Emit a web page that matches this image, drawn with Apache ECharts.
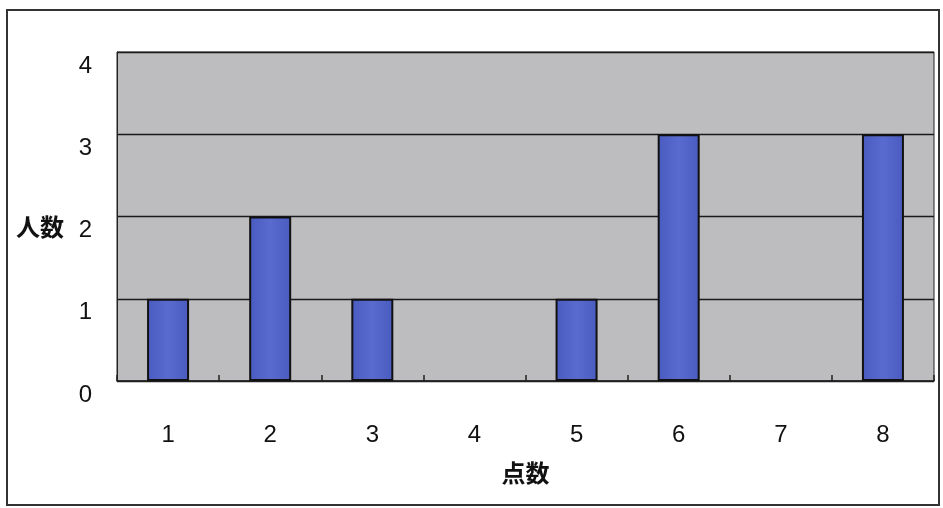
<!DOCTYPE html>
<html>
<head>
<meta charset="utf-8">
<script src="https://cdn.jsdelivr.net/npm/echarts@6/dist/echarts.min.js"></script>
<style>
  html, body { margin: 0; padding: 0; background: #ffffff; }
  #chart { width: 943px; height: 508px; }
</style>
</head>
<body>
<div id="chart"></div>
<script>
// 点数ごとの人数
const scores = ['1', '2', '3', '4', '5', '6', '7', '8'];
const counts = [1, 2, 1, 0, 1, 3, 0, 3];
const yTicks = [0, 1, 2, 3, 4];

const chart = echarts.init(document.getElementById('chart'), null, { renderer: 'canvas' });

const font = '"Liberation Sans", Arial, "Noto Sans CJK JP", sans-serif';

const frame = {
  type: 'rect',
  shape: { x: 7, y: 10, width: 932, height: 495 },
  style: { fill: 'none', stroke: '#333333', lineWidth: 2 },
  silent: true
};

chart.setOption({
  animation: false,
  backgroundColor: '#ffffff',
  graphic: [frame],
  grid: {
    left: 117, right: 9, top: 52, bottom: 127,
    show: true,
    backgroundColor: '#bdbdc0',
    borderColor: '#222222',
    borderWidth: 1
  },
  xAxis: {
    type: 'category',
    data: scores,
    name: '点数',
    nameLocation: 'middle',
    nameGap: 82,
    nameTextStyle: { fontFamily: font, fontSize: 24, fontWeight: 'bold', color: '#111111' },
    axisLine: { show: true, lineStyle: { color: '#222222', width: 1.5 } },
    axisTick: { show: true, inside: true, length: 6, interval: 0, lineStyle: { color: '#222222', width: 1.5 } },
    axisLabel: { fontFamily: font, fontSize: 24, color: '#111111', margin: 42 }
  },
  yAxis: {
    type: 'value',
    min: yTicks[0],
    max: yTicks[yTicks.length - 1],
    interval: 1,
    axisLine: { show: true, lineStyle: { color: '#222222', width: 1 } },
    axisTick: { show: false },
    splitLine: { show: true, lineStyle: { color: '#1a1a1a', width: 1.3 } },
    axisLabel: {
      fontFamily: font, fontSize: 24, color: '#111111', margin: 25,
      verticalAlign: 'top',
      padding: [2, 0, 0, 0],
      formatter: v => (yTicks.includes(v) ? String(v) : '')
    }
  },
  series: [{
    type: 'bar',
    // 0 人の棒は枠線も描かない
    data: counts.map(v => (v === 0 ? { value: v, itemStyle: { borderWidth: 0 } } : v)),
    barWidth: 42,
    itemStyle: {
      color: {
        type: 'linear', x: 0, y: 0, x2: 1, y2: 0,
        colorStops: [
          { offset: 0, color: '#4a5bc0' },
          { offset: 0.5, color: '#5a6bd0' },
          { offset: 1, color: '#4a5bc0' }
        ]
      },
      borderColor: '#111111',
      borderWidth: 2
    }
  }]
});

// 縦軸タイトル「人数」（2 の目盛の左）
const p2 = chart.convertToPixel({ yAxisIndex: 0 }, 2);
chart.setOption({
  graphic: [frame, {
    type: 'text',
    left: 16,
    top: p2 + 1,
    style: { text: '人数', font: 'bold 24px ' + font, fill: '#111111' },
    silent: true
  }]
});
</script>
</body>
</html>
